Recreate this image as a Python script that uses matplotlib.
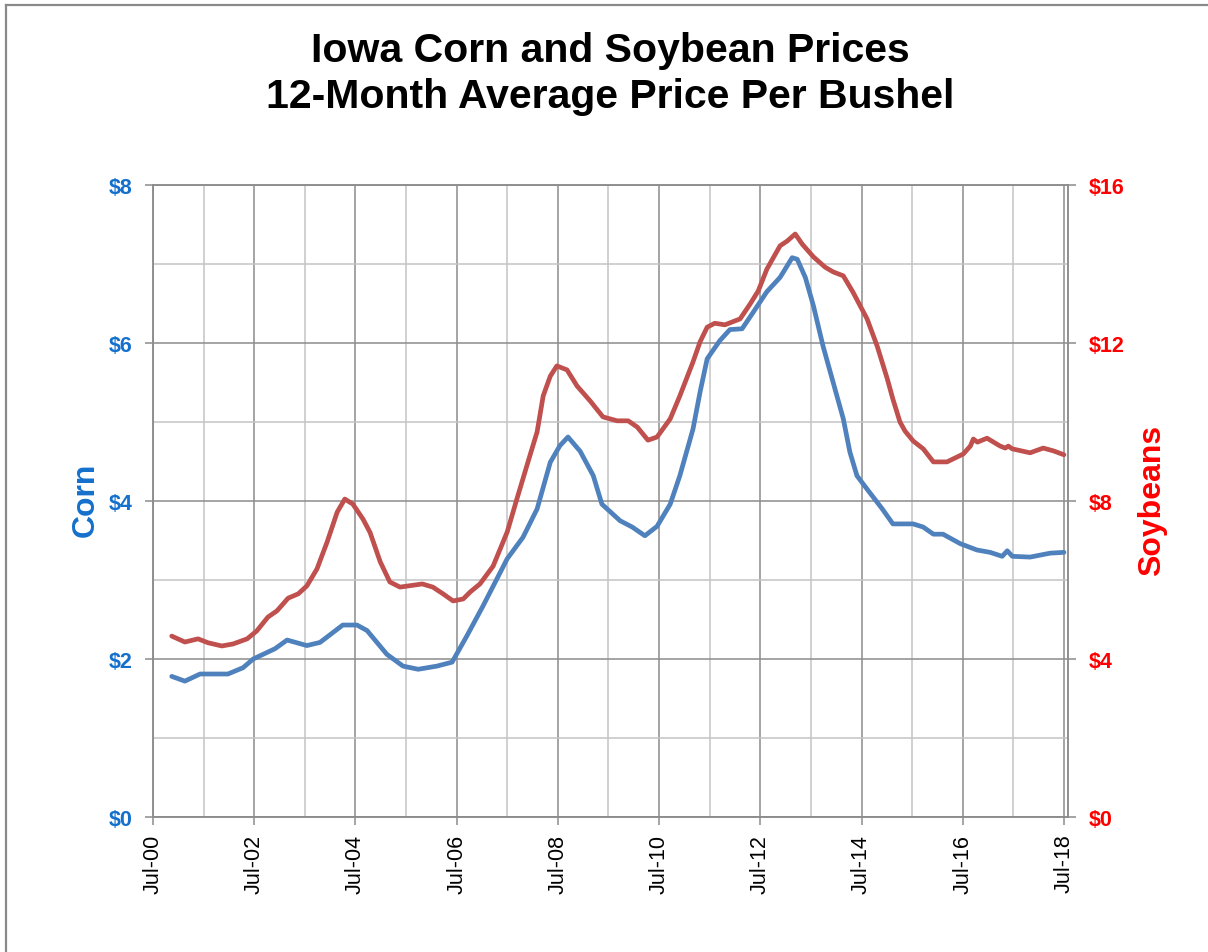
# Librerias

import numpy as np
import matplotlib
matplotlib.use("Agg")
import matplotlib.pyplot as plt
from matplotlib.lines import Line2D

plt.rcParams['font.family'] = ['Liberation Sans', 'DejaVu Sans']

# Datos (ano decimal, precio promedio 12 meses)

corn_t = [2000.87, 2001.13, 2001.43, 2001.98, 2002.28, 2002.48, 2002.91, 2003.15,
          2003.54, 2003.80, 2004.25, 2004.53, 2004.73, 2005.12, 2005.44, 2005.74,
          2006.11, 2006.41, 2006.70, 2007.02, 2007.22, 2007.50, 2007.81, 2008.09,
          2008.35, 2008.54, 2008.70, 2008.94, 2009.20, 2009.37, 2009.73, 2009.97,
          2010.22, 2010.46, 2010.72, 2010.91, 2011.17, 2011.31, 2011.45, 2011.70,
          2011.90, 2012.14, 2012.34, 2012.63, 2012.89, 2013.13, 2013.23, 2013.39,
          2013.55, 2013.74, 2013.94, 2014.14, 2014.27, 2014.41, 2014.61, 2014.91,
          2015.12, 2015.52, 2015.72, 2015.92, 2016.11, 2016.45, 2016.78, 2017.04,
          2017.28, 2017.38, 2017.48, 2017.83, 2018.23, 2018.50]
corn_p = [1.78, 1.72, 1.81, 1.81, 1.89, 2.00, 2.13, 2.24,
          2.17, 2.21, 2.43, 2.43, 2.36, 2.06, 1.91, 1.87,
          1.91, 1.96, 2.29, 2.67, 2.92, 3.27, 3.54, 3.90,
          4.49, 4.70, 4.81, 4.63, 4.32, 3.96, 3.75, 3.67,
          3.56, 3.68, 3.96, 4.32, 4.91, 5.38, 5.80, 6.03,
          6.17, 6.18, 6.37, 6.65, 6.83, 7.08, 7.06, 6.83,
          6.47, 5.96, 5.50, 5.04, 4.62, 4.32, 4.15, 3.90,
          3.71, 3.71, 3.67, 3.58, 3.58, 3.46, 3.38, 3.35,
          3.30, 3.37, 3.30, 3.29, 3.34, 3.35]

soy_t = [2000.87, 2001.13, 2001.39, 2001.59, 2001.86, 2002.08, 2002.36, 2002.55,
         2002.77, 2002.95, 2003.17, 2003.37, 2003.54, 2003.74, 2003.94, 2004.14,
         2004.29, 2004.45, 2004.65, 2004.79, 2004.99, 2005.18, 2005.38, 2005.82,
         2006.03, 2006.23, 2006.43, 2006.63, 2006.77, 2006.96, 2007.22, 2007.50,
         2007.69, 2007.91, 2008.09, 2008.21, 2008.35, 2008.48, 2008.68, 2008.88,
         2009.14, 2009.39, 2009.67, 2009.89, 2010.07, 2010.28, 2010.46, 2010.72,
         2010.91, 2011.17, 2011.31, 2011.45, 2011.60, 2011.80, 2012.10, 2012.30,
         2012.46, 2012.63, 2012.89, 2013.03, 2013.19, 2013.33, 2013.55, 2013.78,
         2013.94, 2014.14, 2014.33, 2014.61, 2014.81, 2015.01, 2015.12, 2015.26,
         2015.36, 2015.52, 2015.72, 2015.92, 2016.19, 2016.51, 2016.65, 2016.71,
         2016.79, 2016.98, 2017.24, 2017.34, 2017.40, 2017.48, 2017.83, 2018.09,
         2018.29, 2018.50]
soy_p = [4.58, 4.43, 4.51, 4.41, 4.33, 4.38, 4.51, 4.71,
         5.06, 5.22, 5.54, 5.65, 5.85, 6.28, 6.96, 7.72,
         8.05, 7.92, 7.54, 7.20, 6.46, 5.95, 5.82, 5.90,
         5.82, 5.65, 5.47, 5.52, 5.70, 5.90, 6.35, 7.22,
         8.05, 8.99, 9.75, 10.66, 11.16, 11.42, 11.32, 10.91,
         10.53, 10.13, 10.03, 10.03, 9.87, 9.54, 9.62, 10.08,
         10.66, 11.52, 12.03, 12.40, 12.50, 12.46, 12.61, 12.99,
         13.32, 13.87, 14.46, 14.58, 14.76, 14.50, 14.18, 13.92,
         13.80, 13.70, 13.29, 12.61, 11.92, 11.09, 10.58, 10.00,
         9.77, 9.52, 9.32, 8.99, 8.99, 9.19, 9.39, 9.57,
         9.49, 9.59, 9.39, 9.34, 9.39, 9.32, 9.22, 9.34,
         9.27, 9.17]

x_labels = ["Jul-00", "Jul-02", "Jul-04", "Jul-06", "Jul-08",
            "Jul-10", "Jul-12", "Jul-14", "Jul-16", "Jul-18"]
corn_ticks = [0, 2, 4, 6, 8]
soy_ticks = [0, 4, 8, 12, 16]

# Grafica

W, H = 1208, 953
fig = plt.figure(figsize=(W / 100, H / 100), dpi=100)
ax = fig.add_axes([153 / W, 1 - 818 / H, (1068 - 153) / W, (818 - 186) / H])
ax2 = ax.twinx()

blue_txt = '#1470CC'
red_txt = '#FF0000'
grid_major = '#8c8c8c'
grid_minor = '#c4c4c4'

ax.plot(corn_t, corn_p, color='#4F81BD', lw=3.4, solid_joinstyle='round',
        solid_capstyle='round', zorder=3)
ax2.plot(soy_t, soy_p, color='#C0504D', lw=3.4, solid_joinstyle='round',
         solid_capstyle='round', zorder=3)

x_pos = [2000.5 + 2 * i for i in range(len(x_labels))]
ax.set_xlim(2000.5, 2018.58)
ax.set_ylim(0, 8)
ax2.set_ylim(0, 16)

ax.set_xticks(x_pos)
ax.set_xticklabels(x_labels, rotation=90, fontsize=15.5)
ax.set_xticks([p + 1 for p in x_pos[:-1]], minor=True)
ax.set_yticks(corn_ticks)
ax.set_yticklabels(['$%d' % v for v in corn_ticks], color=blue_txt,
                   fontsize=15.5, fontweight='bold')
ax.set_yticks([1, 3, 5, 7], minor=True)
ax2.set_yticks(soy_ticks)
ax2.set_yticklabels(['$%d' % v for v in soy_ticks], color=red_txt,
                    fontsize=15.5, fontweight='bold')

ax.grid(which='major', color=grid_major, lw=1.1)
ax.grid(which='minor', color=grid_minor, lw=1.1)
ax.set_axisbelow(True)

ax.tick_params(axis='x', which='major', direction='out', length=6, width=1.1,
               color=grid_major, pad=6)
ax.tick_params(axis='both', which='minor', length=0)
ax.tick_params(axis='y', which='major', direction='out', length=6, width=1.1,
               color=grid_major, pad=9)
ax2.tick_params(axis='y', which='major', direction='out', length=6, width=1.1,
                color=grid_major, pad=9)

for a in (ax, ax2):
    for s in a.spines.values():
        s.set_color(grid_major)
        s.set_linewidth(1.1)

fig.text(86 / W, 1 - 500 / H, 'Corn', rotation=90, ha='center', va='center',
         fontsize=23, fontweight='bold', color=blue_txt)
fig.text(1152 / W, 1 - 500 / H, 'Soybeans', rotation=90, ha='center', va='center',
         fontsize=23, fontweight='bold', color=red_txt)

fig.text(610 / W, 1 - 62 / H, 'Iowa Corn and Soybean Prices', ha='center',
         va='baseline', fontsize=29.5, fontweight='bold')
fig.text(610 / W, 1 - 108 / H, '12-Month Average Price Per Bushel', ha='center',
         va='baseline', fontsize=29.5, fontweight='bold')

# Borde de la figura
fig.add_artist(Line2D([6 / W, 6 / W], [0, 1 - 6 / H], color='#8a8a8a', lw=1.6))
fig.add_artist(Line2D([6 / W, 1], [1 - 6 / H, 1 - 6 / H], color='#8a8a8a', lw=1.6))

fig.savefig('out.png', dpi=100)
